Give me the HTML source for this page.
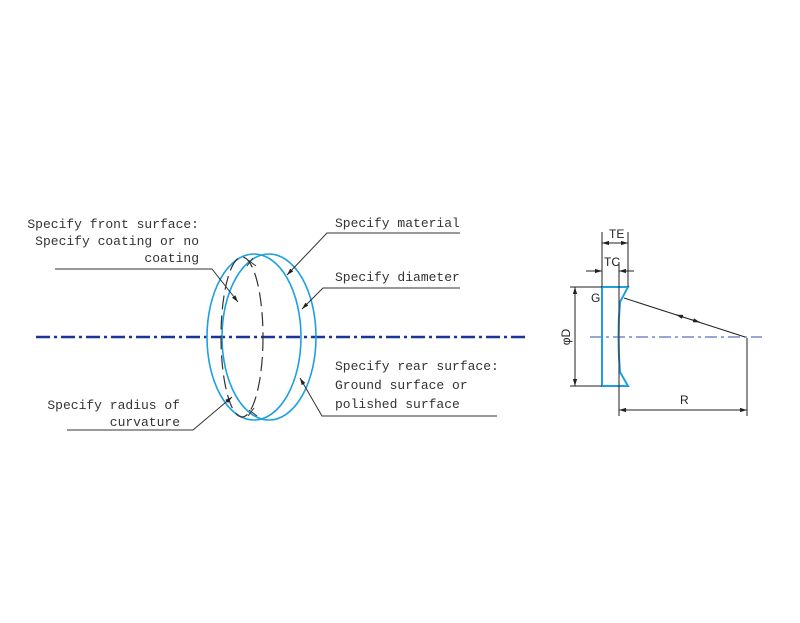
<!DOCTYPE html>
<html><head><meta charset="utf-8"><style>
html,body{margin:0;padding:0;background:#fff;}
svg{display:block;}
text{font-family:"Liberation Mono",monospace;font-size:13px;fill:#333;}
.s{font-family:"Liberation Sans",sans-serif;font-size:12px;fill:#222;}
</style></head><body>
<svg width="800" height="623" viewBox="0 0 800 623" xmlns="http://www.w3.org/2000/svg">
<defs>
<marker id="a" viewBox="0 0 10 10" refX="10" refY="5" markerWidth="7" markerHeight="7" orient="auto-start-reverse"><path d="M0,2 L10,5 L0,8 z" fill="#222"/></marker>
</defs>
<line x1="36" y1="337" x2="527" y2="337" stroke="#1a3596" stroke-width="2.5" stroke-dasharray="14,4,3,4"/>
<ellipse cx="269" cy="337" rx="47" ry="83" fill="none" stroke="#1ea0e0" stroke-width="1.6"/>
<ellipse cx="254" cy="337" rx="47" ry="83" fill="none" stroke="#1ea0e0" stroke-width="1.6"/>
<ellipse cx="242" cy="337" rx="21" ry="80" fill="none" stroke="#333" stroke-width="1.2" stroke-dasharray="14,6"/>
<path d="M248,260 l8,6 M247,266 l6,-8 M249,410 l8,6 M248,416 l6,-8" stroke="#333" stroke-width="1"/>
<g stroke="#333" stroke-width="1" fill="none">
<polyline points="55,269 212,269 238,302" marker-end="url(#a)"/>
<polyline points="67,430 193,430 232,397" marker-end="url(#a)"/>
<polyline points="460,233 327,233 287,275" marker-end="url(#a)"/>
<polyline points="460,288 323,288 302,309" marker-end="url(#a)"/>
<polyline points="497,416 322,416 300,378" marker-end="url(#a)"/>
</g>
<text x="199" y="228" text-anchor="end">Specify front surface:</text>
<text x="199" y="245" text-anchor="end">Specify coating or no</text>
<text x="199" y="262" text-anchor="end">coating</text>
<text x="180" y="409" text-anchor="end">Specify radius of</text>
<text x="180" y="426" text-anchor="end">curvature</text>
<text x="335" y="227">Specify material</text>
<text x="335" y="281">Specify diameter</text>
<text x="335" y="370">Specify rear surface:</text>
<text x="335" y="389">Ground surface or</text>
<text x="335" y="408">polished surface</text>
<line x1="590" y1="337" x2="762" y2="337" stroke="#5a6fc0" stroke-width="1.2" stroke-dasharray="12,4,3,4"/>
<path d="M602,287 L628,287 L620,302 Q617,337 620,372 L628,386 L602,386 Z" fill="none" stroke="#1ea0e0" stroke-width="2"/>
<g stroke="#222" stroke-width="1" fill="none">
<line x1="619" y1="262" x2="619" y2="416"/>
<line x1="747" y1="338" x2="747" y2="416"/>
<line x1="619" y1="410" x2="747" y2="410" marker-start="url(#a)" marker-end="url(#a)"/>
<line x1="624" y1="298" x2="745" y2="337"/>
<line x1="685" y1="317.6" x2="676" y2="314.7" marker-end="url(#a)"/>
<line x1="690" y1="319.2" x2="700" y2="322.4" marker-end="url(#a)"/>
<line x1="570" y1="287" x2="602" y2="287"/>
<line x1="570" y1="386" x2="602" y2="386"/>
<line x1="575" y1="287" x2="575" y2="386" marker-start="url(#a)" marker-end="url(#a)"/>
<line x1="602" y1="232" x2="602" y2="287"/>
<line x1="628" y1="232" x2="628" y2="287"/>
<line x1="602" y1="243" x2="628" y2="243" marker-start="url(#a)" marker-end="url(#a)"/>
<line x1="586" y1="271" x2="602" y2="271" marker-end="url(#a)"/>
<line x1="634" y1="271" x2="619" y2="271" marker-end="url(#a)"/>
</g>
<text class="s" x="609" y="238">TE</text>
<text class="s" x="604" y="266">TC</text>
<text class="s" x="591" y="302">G</text>
<text class="s" x="680" y="404">R</text>
<text class="s" x="0" y="0" transform="translate(570,337) rotate(-90)" text-anchor="middle">φD</text>
</svg>
</body></html>
